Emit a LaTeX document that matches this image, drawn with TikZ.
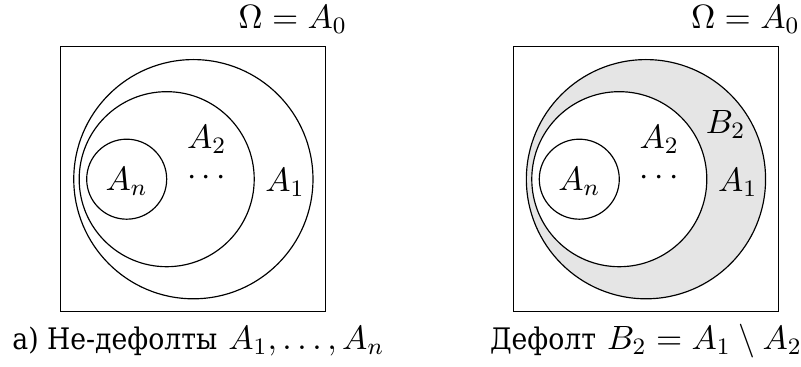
\documentclass[tikz,border=0pt]{standalone}
\usepackage{fix-cm}
\usepackage[no-math]{fontspec}
\newfontfamily\cyr{DejaVu Serif Condensed}[Scale=0.88]
\usetikzlibrary{positioning}
\definecolor{cshade}{HTML}{E5E5E5}
\tikzset{
  every picture/.style={line width=0.4pt},
  every node/.style={font=\fontsize{11.5pt}{14pt}\selectfont},
  region/.style={draw=black},
  lbl/.style={inner sep=0pt, anchor=base},
  omega/.style={inner sep=0pt, anchor=base east},
}

\begin{document}
\begin{tikzpicture}
  \useasboundingbox (-2.32,-2.25) rectangle (7.29,2.15);
  % shaded B_2 = A_1 \ A_2
  \fill[cshade] (5.43,0) circle (1.435);
  \fill[white] (5.11,0) circle (1.05);
  \foreach \dx [count=\i] in {0,5.43} {
    \draw[region] (\dx-1.59,-1.59) rectangle (\dx+1.59,1.59);
    \draw[region] (\dx,0) circle (1.435);
    \draw[region] (\dx-0.32,0) circle (1.05);
    \draw[region] (\dx-0.8,0) circle (0.48);
    \node[lbl] (an\i) at (\dx-0.8,-0.13) {$A_n$};
    \node[lbl] (atwo\i) at (\dx+0.16,0.37) {$A_2$};
    \node[lbl] (dots\i) at (\dx+0.16,-0.07) {\smash{$\cdots$}};
    \node[lbl] (aone\i) at (\dx+1.1,-0.15) {$A_1$};
    \node[omega] (om\i) at (\dx+1.85,1.805) {$\Omega = A_0$};
  }
  \node[lbl] (btwo) at (6.385,0.55) {$B_2$};
  \node[lbl] (capa) at (0.06,-2.04) {{\cyr а) Не-дефолты} $A_1,\ldots,A_n$};
  \node[lbl] (capb) at (5.43,-2.04) {{\cyr Дефолт} $B_2 = A_1 \setminus A_2$};
\end{tikzpicture}
\end{document}
